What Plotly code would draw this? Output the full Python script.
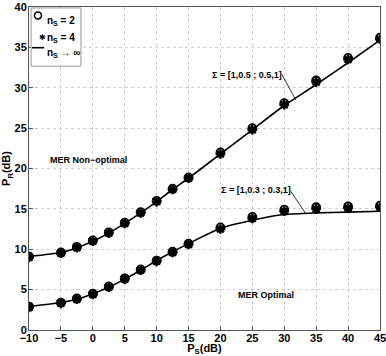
import plotly.graph_objects as go

# ── Data ─────────────────────────────────────────────────────────────────────
ps_db = [-10, -5, -2.5, 0, 2.5, 5, 7.5, 10, 12.5, 15, 20, 25, 30, 35, 40, 45]

# Sigma = [1,0.5 ; 0.5,1]  (MER non-optimal)
upper_ns2 = [9.1, 9.6, 10.3, 11.1, 12.1, 13.3, 14.6, 16.0, 17.5, 18.9, 22.0, 25.0, 28.1, 30.9, 33.7, 36.2]
upper_ns4 = [9.0, 9.5, 10.2, 11.0, 12.0, 13.2, 14.5, 15.9, 17.4, 18.8, 21.8, 24.8, 27.9, 30.7, 33.5, 36.0]
upper_inf = [9.1, 9.6, 10.2, 11.0, 12.0, 13.2, 14.5, 15.9, 17.4, 18.8, 21.8, 24.8, 27.8, 30.4, 33.1, 35.9]

# Sigma = [1,0.3 ; 0.3,1]  (MER optimal)
lower_ns2 = [2.9, 3.4, 3.9, 4.5, 5.4, 6.4, 7.5, 8.6, 9.7, 10.7, 12.7, 14.0, 14.9, 15.2, 15.3, 15.4]
lower_ns4 = [2.8, 3.3, 3.8, 4.4, 5.3, 6.3, 7.4, 8.5, 9.6, 10.6, 12.5, 13.8, 14.7, 15.0, 15.1, 15.2]
lower_inf = [2.9, 3.4, 3.8, 4.5, 5.3, 6.3, 7.4, 8.6, 9.7, 10.7, 12.6, 13.6, 14.3, 14.5, 14.6, 14.7]

legend_labels = ["n<sub>S</sub> = 2", "n<sub>S</sub> = 4", "n<sub>S</sub> → ∞"]

FONT = "Liberation Sans, Arial, sans-serif"
BLACK = "#000000"

fig = go.Figure()

# markers (n_S = 2 open circles, n_S = 4 asterisks)
for i, (up, lo) in enumerate([(upper_ns2, lower_ns2), (upper_ns4, lower_ns4)]):
    sym = "circle-open" if i == 0 else "asterisk-open"
    width = 1.8 if i == 0 else 2.4
    for ys in (up, lo):
        fig.add_trace(go.Scatter(
            x=ps_db, y=ys, mode="markers", showlegend=False,
            marker=dict(symbol=sym, size=8, color=BLACK, line=dict(color=BLACK, width=width)),
        ))

# asymptotic curves
for ys in (upper_inf, lower_inf):
    fig.add_trace(go.Scatter(
        x=ps_db, y=ys, mode="lines", showlegend=False,
        line=dict(color=BLACK, width=1.6, shape="spline", smoothing=0.6),
    ))

# ── Annotations ──────────────────────────────────────────────────────────────
ann_font = dict(family=FONT, size=9, color=BLACK, weight="bold")
fig.add_annotation(x=24.2, y=31.6, text="Σ = [1,0.5 ; 0.5,1]", showarrow=False, font=ann_font)
fig.add_shape(type="line", x0=29.6, y0=31.7, x1=31.8, y1=28.5, line=dict(color=BLACK, width=0.8))
fig.add_annotation(x=25.6, y=17.4, text="Σ = [1,0.3 ; 0.3,1]", showarrow=False, font=ann_font)
fig.add_shape(type="line", x0=31.0, y0=17.2, x1=33.3, y1=14.5, line=dict(color=BLACK, width=0.8))
fig.add_annotation(x=-0.7, y=21.1, text="MER Non−optimal", showarrow=False, font=ann_font)
fig.add_annotation(x=27.2, y=4.3, text="MER Optimal", showarrow=False, font=ann_font)

# ── Hand-built compact legend (paper coords) ────────────────────────────────
fig.add_shape(type="rect", xref="paper", yref="paper", x0=0.006, x1=0.148, y0=0.817, y1=0.997,
              line=dict(color="#999999", width=1), fillcolor="#ffffff", layer="above")
leg_y = [0.974, 0.922, 0.874]
fig.add_shape(type="circle", xref="paper", yref="paper", xsizemode="pixel", ysizemode="pixel",
              xanchor=0.0256, yanchor=leg_y[0], x0=-3.5, x1=3.5, y0=-3.5, y1=3.5,
              line=dict(color=BLACK, width=1.5), layer="above")
fig.add_annotation(xref="paper", yref="paper", x=0.0256, y=leg_y[1], text="✱", showarrow=False,
                   font=dict(family="DejaVu Sans", size=8, color=BLACK), borderpad=0)
fig.add_shape(type="line", xref="paper", yref="paper", x0=0.0085, x1=0.043, y0=leg_y[2], y1=leg_y[2],
              line=dict(color=BLACK, width=1.6), layer="above")
for lab, yy in zip(legend_labels, leg_y):
    fig.add_annotation(xref="paper", yref="paper", x=0.048, y=yy + 0.005, xanchor="left",
                       text=lab, showarrow=False, borderpad=0,
                       font=dict(family=FONT, size=10, color=BLACK, weight="bold"))

axis_common = dict(
    showline=True, linecolor="#555555", linewidth=1, mirror=True,
    ticks="inside", ticklen=4, tickcolor="#555555",
    showgrid=True, gridcolor="#d0d0d0", griddash="dot", gridwidth=1,
    zeroline=False, automargin=False, ticklabeloverflow="allow",
    tickfont=dict(family=FONT, size=11, color=BLACK, weight="bold"),
)

fig.update_layout(
    width=386, height=356,
    paper_bgcolor="#ffffff", plot_bgcolor="#ffffff",
    margin=dict(l=29, r=6, t=7, b=26),
    font=dict(family=FONT, color=BLACK),
    xaxis=dict(
        range=[-10, 45], tickvals=list(range(-10, 50, 5)),
        ticktext=[str(v).replace("-", "−") for v in range(-10, 50, 5)],
        ticklabelstandoff=-2,
        title=dict(text="P<sub>S</sub>(dB)", standoff=0,
                   font=dict(family=FONT, size=11, color=BLACK, weight="bold")),
        **axis_common,
    ),
    yaxis=dict(
        range=[0, 40], tickvals=list(range(0, 45, 5)),
        ticklabelstandoff=-1,
        title=dict(text="P<sub>R</sub>(dB)", standoff=0,
                   font=dict(family=FONT, size=11, color=BLACK, weight="bold")),
        **axis_common,
    ),
    showlegend=False,
)

fig.write_html("out.html", config={"displayModeBar": False},
               post_script="document.body.style.margin='0';")
